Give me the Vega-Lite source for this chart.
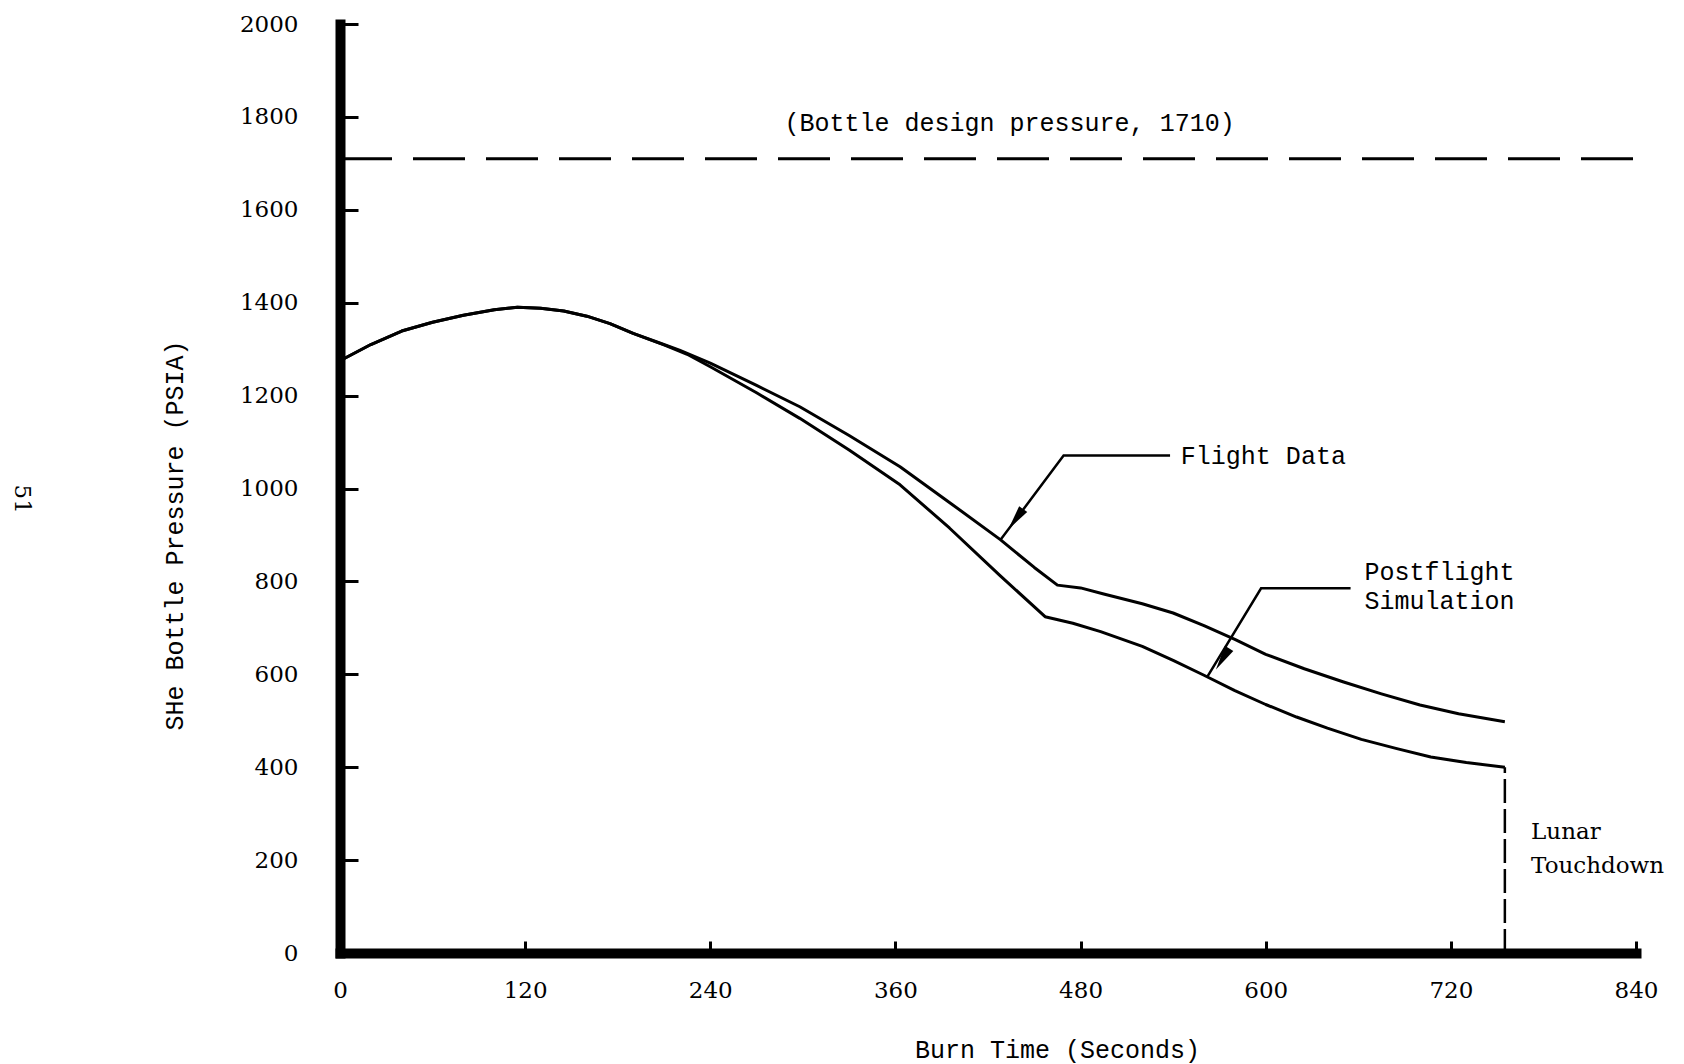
{
  "$schema": "https://vega.github.io/schema/vega-lite/v6.json",
  "width": 1296,
  "height": 929,
  "autosize": {"type": "none"},
  "padding": {"left": 340, "top": 24, "right": 48, "bottom": 111},
  "background": "white",
  "config": {"view": {"stroke": null}},
  "encoding": {
    "x": {
      "field": "t", "type": "quantitative",
      "scale": {"domain": [0, 840], "nice": false, "zero": false},
      "axis": {
        "values": [0, 120, 240, 360, 480, 600, 720, 840],
        "format": "d",
        "title": "Burn Time (Seconds)",
        "titleFont": "Liberation Mono", "titleFontSize": 25, "titleFontWeight": "normal", "titleColor": "black",
        "titleX": 717, "titleY": 96, "titleBaseline": "middle", "titleAlign": "center",
        "labelFont": "DejaVu Serif", "labelFontSize": 23, "labelColor": "black", "labelPadding": 38,
        "labelFlush": false, "labelOverlap": false,
        "tickSize": -12, "tickWidth": 3, "tickColor": "black",
        "domainWidth": 10, "domainColor": "black", "domainCap": "square", "grid": false
      }
    },
    "y": {
      "field": "v", "type": "quantitative",
      "scale": {"domain": [0, 2000], "nice": false, "zero": false},
      "axis": {
        "values": [0, 200, 400, 600, 800, 1000, 1200, 1400, 1600, 1800, 2000],
        "format": "d",
        "title": "SHe Bottle Pressure (PSIA)",
        "titleFont": "Liberation Mono", "titleFontSize": 25, "titleFontWeight": "normal", "titleColor": "black",
        "titleX": -166, "titleY": 511, "titleAngle": -90, "titleBaseline": "middle", "titleAlign": "center",
        "labelFont": "DejaVu Serif", "labelFontSize": 23, "labelColor": "black", "labelPadding": 60,
        "labelFlush": false, "labelOverlap": false,
        "tickSize": -18, "tickWidth": 3, "tickColor": "black",
        "domainWidth": 10, "domainColor": "black", "domainCap": "square", "grid": false
      }
    }
  },
  "layer": [
    {
      "data": {"values": [
        {"series": "Flight Data", "t": 0, "v": 1275}, {"series": "Flight Data", "t": 20, "v": 1310},
        {"series": "Flight Data", "t": 40, "v": 1339}, {"series": "Flight Data", "t": 60, "v": 1358},
        {"series": "Flight Data", "t": 80, "v": 1373}, {"series": "Flight Data", "t": 100, "v": 1385},
        {"series": "Flight Data", "t": 115, "v": 1390}, {"series": "Flight Data", "t": 130, "v": 1388},
        {"series": "Flight Data", "t": 145, "v": 1382}, {"series": "Flight Data", "t": 160, "v": 1371},
        {"series": "Flight Data", "t": 175, "v": 1355}, {"series": "Flight Data", "t": 190, "v": 1334},
        {"series": "Flight Data", "t": 205, "v": 1316}, {"series": "Flight Data", "t": 220, "v": 1298},
        {"series": "Flight Data", "t": 240, "v": 1270}, {"series": "Flight Data", "t": 270, "v": 1222},
        {"series": "Flight Data", "t": 298, "v": 1176}, {"series": "Flight Data", "t": 330, "v": 1114},
        {"series": "Flight Data", "t": 363, "v": 1047}, {"series": "Flight Data", "t": 395, "v": 970},
        {"series": "Flight Data", "t": 428, "v": 890}, {"series": "Flight Data", "t": 450, "v": 830},
        {"series": "Flight Data", "t": 465, "v": 792}, {"series": "Flight Data", "t": 480, "v": 786},
        {"series": "Flight Data", "t": 495, "v": 773}, {"series": "Flight Data", "t": 520, "v": 752},
        {"series": "Flight Data", "t": 540, "v": 732}, {"series": "Flight Data", "t": 560, "v": 705},
        {"series": "Flight Data", "t": 580, "v": 675}, {"series": "Flight Data", "t": 600, "v": 643},
        {"series": "Flight Data", "t": 625, "v": 612}, {"series": "Flight Data", "t": 650, "v": 584},
        {"series": "Flight Data", "t": 675, "v": 558}, {"series": "Flight Data", "t": 700, "v": 534},
        {"series": "Flight Data", "t": 725, "v": 515}, {"series": "Flight Data", "t": 755, "v": 498},
        {"series": "Postflight Simulation", "t": 0, "v": 1275}, {"series": "Postflight Simulation", "t": 20, "v": 1310},
        {"series": "Postflight Simulation", "t": 40, "v": 1339}, {"series": "Postflight Simulation", "t": 60, "v": 1358},
        {"series": "Postflight Simulation", "t": 80, "v": 1373}, {"series": "Postflight Simulation", "t": 100, "v": 1385},
        {"series": "Postflight Simulation", "t": 115, "v": 1390}, {"series": "Postflight Simulation", "t": 130, "v": 1388},
        {"series": "Postflight Simulation", "t": 145, "v": 1382}, {"series": "Postflight Simulation", "t": 160, "v": 1371},
        {"series": "Postflight Simulation", "t": 175, "v": 1355}, {"series": "Postflight Simulation", "t": 190, "v": 1334},
        {"series": "Postflight Simulation", "t": 210, "v": 1309}, {"series": "Postflight Simulation", "t": 225, "v": 1289},
        {"series": "Postflight Simulation", "t": 240, "v": 1262}, {"series": "Postflight Simulation", "t": 270, "v": 1206},
        {"series": "Postflight Simulation", "t": 298, "v": 1151}, {"series": "Postflight Simulation", "t": 330, "v": 1083},
        {"series": "Postflight Simulation", "t": 363, "v": 1008}, {"series": "Postflight Simulation", "t": 395, "v": 915},
        {"series": "Postflight Simulation", "t": 428, "v": 812}, {"series": "Postflight Simulation", "t": 457, "v": 724},
        {"series": "Postflight Simulation", "t": 475, "v": 710}, {"series": "Postflight Simulation", "t": 493, "v": 692},
        {"series": "Postflight Simulation", "t": 520, "v": 660}, {"series": "Postflight Simulation", "t": 540, "v": 630},
        {"series": "Postflight Simulation", "t": 560, "v": 598}, {"series": "Postflight Simulation", "t": 580, "v": 565},
        {"series": "Postflight Simulation", "t": 600, "v": 535}, {"series": "Postflight Simulation", "t": 620, "v": 508},
        {"series": "Postflight Simulation", "t": 640, "v": 484}, {"series": "Postflight Simulation", "t": 662, "v": 460},
        {"series": "Postflight Simulation", "t": 685, "v": 440}, {"series": "Postflight Simulation", "t": 707, "v": 422},
        {"series": "Postflight Simulation", "t": 730, "v": 410}, {"series": "Postflight Simulation", "t": 755, "v": 400}
      ]},
      "mark": {"type": "line", "color": "black", "strokeWidth": 3, "interpolate": "linear", "strokeJoin": "round"},
      "encoding": {"detail": {"field": "series"}}
    },
    {
      "data": {"values": [{"t": 0, "t2": 840, "v": 1710}]},
      "mark": {"type": "rule", "color": "black", "strokeWidth": 3, "strokeDash": [52, 21]},
      "encoding": {"x2": {"field": "t2"}}
    },
    {
      "data": {"values": [{"t": 755, "v": 0, "v2": 400}]},
      "mark": {"type": "rule", "color": "black", "strokeWidth": 2.5, "strokeDash": [24, 6]},
      "encoding": {"y2": {"field": "v2"}}
    },
    {
      "data": {"values": [
        {"leader": "flight", "k": 0, "t": 538, "v": 1071},
        {"leader": "flight", "k": 1, "t": 469, "v": 1071},
        {"leader": "flight", "k": 2, "t": 428, "v": 889},
        {"leader": "sim", "k": 0, "t": 655, "v": 785},
        {"leader": "sim", "k": 1, "t": 597, "v": 785},
        {"leader": "sim", "k": 2, "t": 562, "v": 594}
      ]},
      "mark": {"type": "line", "color": "black", "strokeWidth": 2.5},
      "encoding": {"detail": {"field": "leader"}, "order": {"field": "k"}}
    },
    {
      "data": {"values": [{"t": 438, "v": 934}]},
      "mark": {"type": "point", "shape": "M0,-1L0.4,1L-0.4,1Z", "size": 625, "angle": 216.5, "filled": true, "color": "black", "opacity": 1}
    },
    {
      "data": {"values": [{"t": 572, "v": 633}]},
      "mark": {"type": "point", "shape": "M0,-1L0.4,1L-0.4,1Z", "size": 625, "angle": 211.7, "filled": true, "color": "black", "opacity": 1}
    },
    {
      "data": {"values": [
        {"t": 545, "v": 1069, "label": "Flight Data"},
        {"t": 664, "v": 821, "label": "Postflight"},
        {"t": 664, "v": 757, "label": "Simulation"}
      ]},
      "mark": {"type": "text", "font": "Liberation Mono", "fontSize": 25, "align": "left", "baseline": "middle", "color": "black"},
      "encoding": {"text": {"field": "label"}}
    },
    {
      "data": {"values": [{"t": 434, "v": 1786, "label": "(Bottle design pressure, 1710)"}]},
      "mark": {"type": "text", "font": "Liberation Mono", "fontSize": 25, "align": "center", "baseline": "middle", "color": "black"},
      "encoding": {"text": {"field": "label"}}
    },
    {
      "data": {"values": [
        {"t": 772, "v": 260, "label": "Lunar"},
        {"t": 772, "v": 188, "label": "Touchdown"}
      ]},
      "mark": {"type": "text", "font": "DejaVu Serif", "fontSize": 23, "align": "left", "baseline": "middle", "color": "black"},
      "encoding": {"text": {"field": "label"}}
    },
    {
      "data": {"values": [{"t": -206, "v": 977, "label": "51"}]},
      "mark": {"type": "text", "font": "DejaVu Serif", "fontSize": 23, "align": "center", "baseline": "middle", "angle": 90, "color": "black"},
      "encoding": {"text": {"field": "label"}}
    }
  ]
}
